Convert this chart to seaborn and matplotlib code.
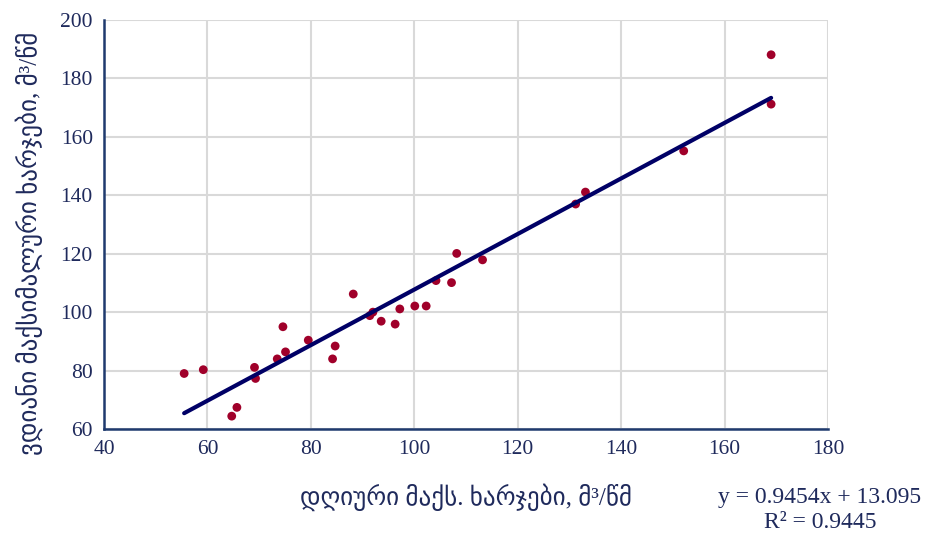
import numpy as np
import pandas as pd
import matplotlib
matplotlib.use("Agg")
import matplotlib.pyplot as plt
import seaborn as sns

# Data
daily_max = [55.5, 59.2, 64.7, 65.7, 69.1, 69.3, 73.5, 74.6, 75.1, 79.5,
             84.7, 84.2, 88.2, 91.4, 92.0, 93.6, 96.3, 97.2, 100.1, 102.3,
             104.2, 107.2, 108.2, 113.2, 131.2, 133.1, 152.1, 169.0, 169.0]
inst_max = [79.0, 80.3, 64.4, 67.4, 81.1, 77.3, 84.0, 95.0, 86.4, 90.4,
            88.4, 84.0, 106.2, 98.8, 100.0, 96.9, 95.9, 101.1, 102.1, 102.1,
            110.8, 110.1, 120.1, 117.9, 137.0, 141.1, 155.2, 188.1, 171.2]

x_label = "დღიური მაქს. ხარჯები, მ³/წმ"
y_label = "ვდიანი მაქსიმალური ხარჯები, მ³/წმ"
equation_text = "y = 0.9454x + 13.095"
r2_text = "R² = 0.9445"
x_ticks = [40, 60, 80, 100, 120, 140, 160, 180]
y_ticks = [60, 80, 100, 120, 140, 160, 180, 200]

df = pd.DataFrame({"x": daily_max, "y": inst_max})

sns.set_theme(style="white")
plt.rcParams["font.family"] = ["Liberation Serif", "DejaVu Sans"]

fig = plt.figure(figsize=(9.25, 5.38), dpi=100)
ax = fig.add_axes([104 / 925, 1 - 429 / 538, (828 - 104) / 925, (429 - 20) / 538])

point_color = "#A0002A"
line_color = "#000066"
spine_color = "#1F3A6E"
text_color = "#1F2A5C"

sns.regplot(data=df, x="x", y="y", ax=ax, ci=None, truncate=True,
            scatter_kws=dict(s=40, color=point_color, edgecolor="none",
                             alpha=1, zorder=3),
            line_kws=dict(color=line_color, linewidth=3.0, zorder=4))

ax.set_xlim(40, 180)
ax.set_ylim(60, 200)
ax.set_xticks(x_ticks)
ax.set_yticks(y_ticks)
ax.tick_params(axis="both", labelsize=15.5, length=0, pad=8)
for lbl in ax.get_xticklabels() + ax.get_yticklabels():
    lbl.set_color(text_color)

ax.grid(True, color="#D9D9D9", linewidth=1.5, zorder=0)
ax.set_axisbelow(True)
for s in ["top", "right"]:
    ax.spines[s].set_visible(False)
for s in ["left", "bottom"]:
    ax.spines[s].set_color(spine_color)
    ax.spines[s].set_linewidth(1.8)

ax.set_xlabel("")
ax.set_ylabel("")

fig.text(466 / 925, 1 - 497 / 538, x_label, ha="center", va="center",
         fontsize=18, color=text_color)
fig.text(29 / 925, 1 - 243 / 538, y_label, ha="center", va="center",
         rotation=90, fontsize=18, color=text_color)
fig.text(820 / 925, 1 - 497 / 538, equation_text, ha="center", va="center",
         fontsize=17, color=text_color)
fig.text(820 / 925, 1 - 522 / 538, r2_text, ha="center", va="center",
         fontsize=17, color=text_color)

fig.savefig("out.png", dpi=100, facecolor="white")
